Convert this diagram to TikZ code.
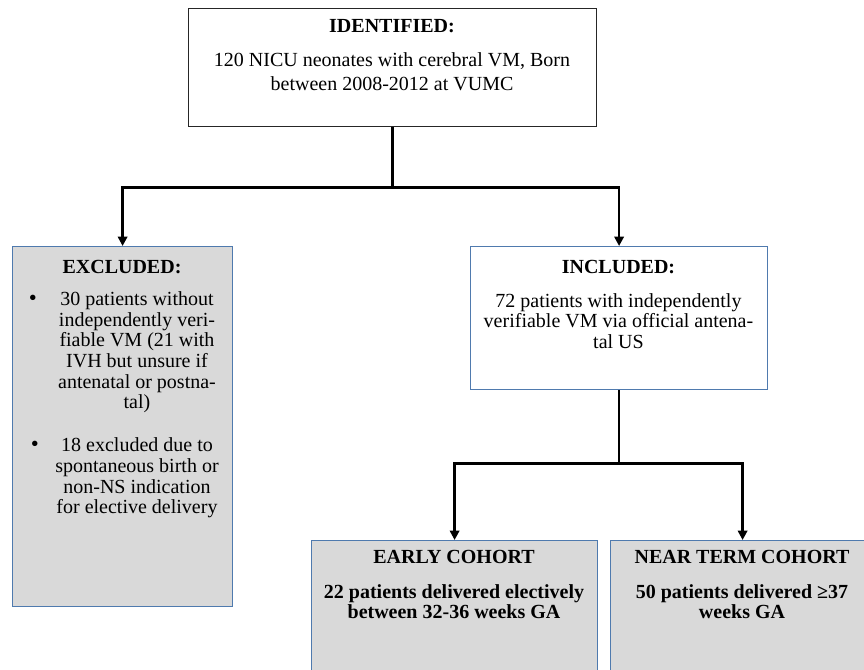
\documentclass[tikz,border=0pt]{standalone}
\usepackage{fontspec}
\setmainfont{Liberation Serif}
\usetikzlibrary{arrows.meta}
\definecolor{boxblue}{HTML}{4F7AAE}
\definecolor{boxgray}{HTML}{D9D9D9}
\begin{document}
\begin{tikzpicture}[x=0.75pt,y=-0.75pt,
  blackbox/.style={draw=black!85,line width=0.9pt,fill=white,anchor=north west,inner sep=0pt},
  graybox/.style={draw=boxblue,line width=0.9pt,fill=boxgray,anchor=north west,inner sep=0pt},
  bluebox/.style={draw=boxblue,line width=0.9pt,fill=white,anchor=north west,inner sep=0pt},
  conn/.style={line width=2pt,-{Triangle[length=7pt,width=7pt]}},
  txt/.style={align=center,inner sep=0pt,font=\fontsize{15}{15.5}\selectfont},
  head/.style={align=center,inner sep=0pt,font=\fontsize{15}{15.5}\selectfont\bfseries}]
\clip (0,0) rectangle (864,670);
\fill[white] (0,0) rectangle (864,670);
% boxes
\node[blackbox,minimum width=306pt,minimum height=88.5pt] (id) at (188,8) {};
\node[graybox,minimum width=165pt,minimum height=270pt] (ex) at (12,246) {};
\node[bluebox,minimum width=222.75pt,minimum height=107.25pt] (inc) at (470,246) {};
\node[graybox,minimum width=214.5pt,minimum height=112.5pt] (early) at (311,540) {};
\node[graybox,minimum width=198pt,minimum height=112.5pt] (near) at (610,540) {};
% connectors
\draw[conn] (id.south) -- ++(0,60) -| (ex.north);
\draw[conn] (id.south) -- ++(0,60) -| (inc.north);
\draw[conn] (inc.south) -- ++(0,73) -| (early.north);
\draw[conn] (inc.south) -- ++(0,73) -| (near.north);
% texts
\node[head] (idh) at (392,26) {IDENTIFIED:};
\node[txt,font=\fontsize{15}{18}\selectfont] (idt) at (392,72) {120 NICU neonates with cerebral VM, Born\\between 2008-2012 at VUMC};
\node[head] (exh) at (122,267) {EXCLUDED:};
\node[txt] (b1) at (33,300) {\textbf{•}};
\node[txt] (ex1) at (137,352.5) {30 patients without\\independently veri-\\fiable VM (21 with\\IVH but unsure if\\antenatal or postna-\\tal)};
\node[txt] (b2) at (35,446) {\textbf{•}};
\node[txt] (ex2) at (137,478) {18 excluded due to\\spontaneous birth or\\non-NS indication\\for elective delivery};
\node[head] (inch) at (618.5,267) {INCLUDED:};
\node[txt] (inct) at (618.5,321) {72 patients with independently\\verifiable VM via official antena-\\tal US};
\node[head] (eh) at (454,557) {EARLY COHORT};
\node[head] (et) at (454,601.5) {22 patients delivered electively\\between 32-36 weeks GA};
\node[head] (nh) at (742,557) {NEAR TERM COHORT};
\node[head] (nt) at (742,601.5) {50 patients delivered ≥37\\weeks GA};
\end{tikzpicture}
\end{document}
